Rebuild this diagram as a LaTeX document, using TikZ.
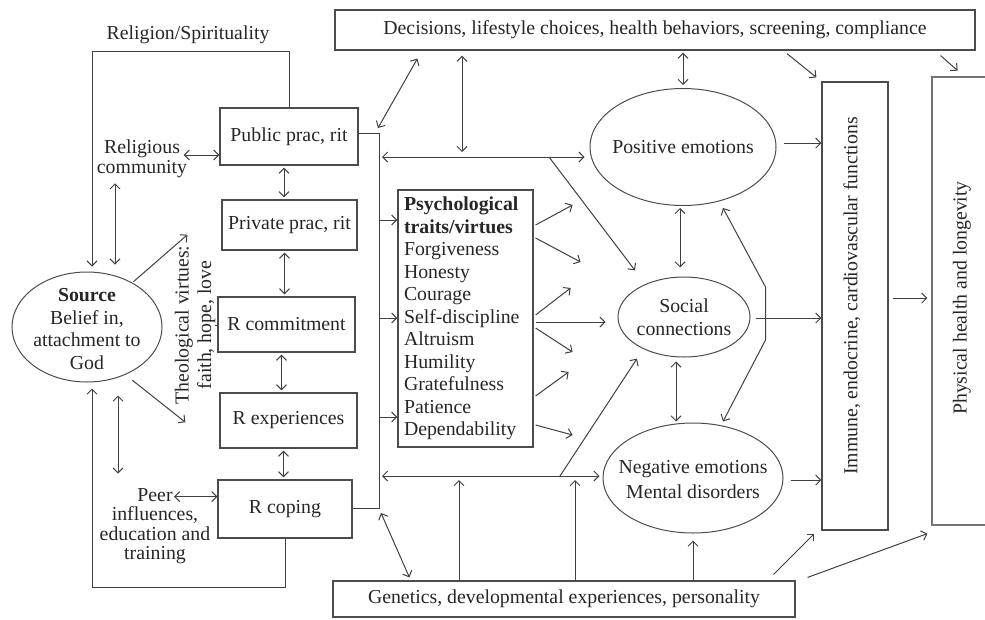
\documentclass[tikz,border=0pt]{standalone}
\usepackage{fontspec}
\setmainfont{Liberation Serif}
\usepackage{tikz}
\usetikzlibrary{
  arrows.meta,
  calc,
  positioning,
  shapes.geometric
}

\begin{document}
\begin{tikzpicture}[x=1pt, y=-1pt,
    every node/.style={font=\fontsize{19.8}{22.5}\selectfont, text=black!85},
    tight/.style={font=\fontsize{19.8}{19.5}\selectfont, align=center},
    box/.style={draw=black!70, line width=1.2pt, rectangle, inner sep=0pt},
    oval/.style={draw=black!70, line width=1pt, ellipse, inner sep=0pt},
    link/.style={draw=black!75, line width=1pt},
    >={Straight Barb[length=5pt,width=10pt]}]
\clip (0,0) rectangle (985,619);

% left part
\node (relig) at (188,35) {Religion/Spirituality};
\node [tight] (relcom) at (142,159) {Religious\\community};
\node [oval, minimum width=150pt, minimum height=110pt] (src) at (87,327) {};
\node [align=center] (srctxt) at (87,329) {\textbf{Source}\\Belief in,\\attachment to\\God};
\node [rotate=90, align=center, inner sep=0pt] (theo) at (195,325) {Theological virtues:\\faith, hope, love};
\node [tight] (peer) at (155,526) {Peer\\influences,\\education and\\training};

\node [box, minimum width=138pt, minimum height=57pt] (pub) at (289,136.5) {Public prac, rit};
\node [box, minimum width=135pt, minimum height=50pt] (priv) at (289.5,225) {Private prac, rit};
\node [box, minimum width=137pt, minimum height=55pt] (rcommit) at (286.5,324.5) {R commitment};
\node [box, minimum width=137pt, minimum height=55pt] (rexp) at (288.5,420.5) {R experiences};
\node [box, minimum width=134pt, minimum height=58pt] (rcope) at (285,509) {R coping};

% middle and right part
\node [box, minimum width=640pt, minimum height=40pt] (decis) at (655,30) {Decisions, lifestyle choices, health behaviors, screening, compliance};
\node [box, minimum width=462pt, minimum height=36pt] (genet) at (564,599) {Genetics, developmental experiences, personality};
\node [box, minimum width=135pt, minimum height=257pt, text width=123pt, inner xsep=6pt, align=left] (psych) at (465.5,318.5)
  {\textbf{Psychological}\\\textbf{traits/virtues}\\Forgiveness\\Honesty\\Courage\\Self-discipline\\Altruism\\Humility\\Gratefulness\\Patience\\Dependability};

\node [oval, minimum width=186pt, minimum height=117pt] (pos) at (683,147) {};
\node (postxt) at (pos) {Positive emotions};
\node [oval, minimum width=132pt, minimum height=80pt] (soc) at (684,317) {};
\node [align=center] (soctxt) at (684,317) {Social\\connections};
\node [oval, minimum width=180pt, minimum height=110pt] (neg) at (693,478) {};
\node [align=center, font=\fontsize{19.8}{25}\selectfont] (negtxt) at (693,480) {Negative emotions\\Mental disorders};

\node [box, minimum width=66pt, minimum height=448pt] (immune) at (855,306) {};
\node [rotate=90] (immtxt) at ($(immune)+(-3,-10)$) {Immune, endocrine, cardiovascular functions};
\node [box, draw=black!55, minimum width=90pt, minimum height=448pt] (phys) at (977,301) {};
\node [rotate=90] (phystxt) at (962,298) {Physical health and longevity};

% religion loops
\draw [link, ->, shorten >=5pt] (pub.north) -- ++(0,-56) -| ([xshift=5pt]src.north);
\draw [link, ->, shorten >=6pt] (rcope.south) -- ++(0,49) -| ([xshift=5pt]src.south);
\draw [link, <->] ($(relcom.east)+(-7,-4)$) -- (pub.west |- 0,155);
\draw [link, <->] ($(relcom.south)+(-27,2)$) -- ($(src.north)+(28,-7)$);
\draw [link, <->] ($(src.south)+(31,13)$) -- ($(peer.north)+(-37,-11)$);
\draw [link, <->] ($(peer.north)+(19,12)$) coordinate (pp) -- (pp -| rcope.west);
\draw [link, ->] ($(src.north east)+(-7,-6)$) -- ++(54,-47);
\draw [link, ->] ($(src.south east)+(-8,14)$) -- ++(53,42);
\draw [link] (theo.south) -- (theo.south -| rcommit.west);

\foreach \a/\b in {pub/priv, priv/rcommit, rcommit/rexp, rexp/rcope}
  \draw [link, <->, shorten <=2pt, shorten >=2pt] ([xshift=-5pt]\a.south) -- ([xshift=-5pt]\a.south |- \b.north);

% bus
\coordinate (bustop) at (379,133);
\coordinate (busbot) at (379,508);
\draw [link] (pub.east |- bustop) -- (bustop) -- (busbot) -- (rcope.east |- busbot);
\foreach \yy in {220,318,417}
  \draw [link, ->] (bustop |- 0,\yy) -- (psych.west |- 0,\yy);

\draw [link, <->, shorten >=5pt] ($(bustop)+(3,24)$) coordinate (ul) -- (ul -| pos.west);
\draw [link, <->, shorten <=5pt, shorten >=5pt] (decis.south -| 462,0) -- (ul -| 462,0);
\draw [link, <->] ($(decis.south west)+(83,8)$) -- ($(bustop)+(-1,-5)$);
\draw [link, ->] (ul -| 549,0) -- ($(soc.north west)+(-2,-18)$);

\draw [link, <->, shorten >=3pt] ($(busbot)+(3,-32)$) coordinate (ll) -- (ll -| neg.west);
\draw [link, ->] (ll -| 560,0) -- ($(soc.south west)+(0,13)$);
\foreach \xx in {459,575}
  \draw [link, ->, shorten >=4pt] (genet.north -| \xx,0) -- (ll -| \xx,0);
\draw [link, <->] ($(busbot)+(2,5)$) -- ($(genet.north west)+(77,-3)$);

% traits towards emotions
\foreach \yy/\dx/\dy in {225/37/-20, 238/45/24, 315/35/-27, 322/70/0, 328/37/24, 396/33/-24, 425/37/10}
  \draw [link, ->] ($(psych.east |- 0,\yy)+(2,0)$) -- ++(\dx,\dy);

% emotions
\draw [link, <->, shorten <=2pt, shorten >=3pt] (decis.south -| pos.north) -- (pos.north);
\draw [link, <->, shorten <=2pt, shorten >=9pt] ([xshift=-3pt]pos.south) -- ([xshift=-3pt]pos.south |- soc.north);
\draw [link, <->, shorten <=4pt, shorten >=1pt] ([xshift=-8pt]soc.south) -- ([xshift=-8pt]soc.south |- neg.north);
\draw [link, ->, shorten >=7pt] (genet.north -| neg.south) -- (neg.south);
\draw [link, <->] ($(pos.south)+(40,2)$) -- ($(soc.east)+(15,-30)$) -- ($(soc.east)+(15,23)$) -- ($(neg.north)+(30,-1)$);

% into immune and health boxes
\draw [link, ->] ($(pos.east)+(7,-4)$) coordinate (pe) -- (pe -| immune.west);
\draw [link, ->] ($(soc.east)+(5,1)$) coordinate (se) -- (se -| immune.west);
\draw [link, ->] ($(neg.east)+(7,2)$) coordinate (ne) -- (ne -| immune.west);
\draw [link, ->] ($(decis.south)+(132,3)$) -- ($(immune.north west)+(-5,-4)$);
\draw [link, ->] ($(genet.north east)+(-22,-6)$) -- ($(immune.south west)+(-7,3)$);
\draw [link, ->, shorten >=4pt] ($(immune.east)+(4,-8)$) coordinate (ie) -- (ie -| phys.west);
\draw [link, ->] ($(decis.south east)+(-35,5)$) -- ++(17,15);
\draw [link, ->] ($(genet.north east)+(12,-3)$) -- ($(phys.south west)+(-4,8)$);
\end{tikzpicture}
\end{document}
